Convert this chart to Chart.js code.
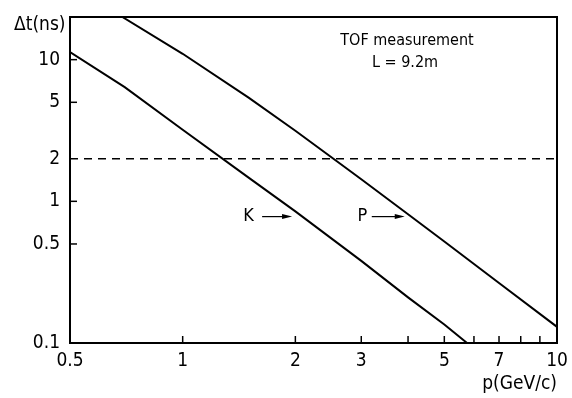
<!DOCTYPE html>
<html>
<head>
<meta charset="utf-8">
<script src="https://cdn.jsdelivr.net/npm/chart.js@4.4.1/dist/chart.umd.min.js"></script>
<style>
  html, body { margin: 0; padding: 0; background: #fff; }
  #wrap { width: 572px; height: 398px; }
</style>
</head>
<body>
<div id="wrap"><canvas id="chart" width="572" height="398"></canvas></div>
<script>
// time-of-flight difference vs momentum, flight path 9.2 m
const kaonP   = [0.5, 0.7, 1.0, 1.5, 2.0, 3.0, 4.0, 5.0, 5.75];
const kaonDt  = [11.3, 6.4, 3.2, 1.47, 0.85, 0.38, 0.21, 0.135, 0.1];
const protonP  = [0.69, 1.0, 1.5, 2.0, 2.56, 3.0, 4.0, 5.0, 7.0, 10.0];
const protonDt = [20, 11.0, 5.4, 3.15, 1.95, 1.43, 0.81, 0.52, 0.265, 0.13];
const cutP  = [0.5, 10];
const cutDt = [2, 2];

const xTicks = [0.5, 1, 2, 3, 5, 7, 10];
const xMinor = [4, 6, 8, 9];
const yTicks = [0.1, 0.5, 1, 2, 5, 10];
const yTickMarks = [0.5, 1, 5, 10];

// curve labels: text, label p, arrow start p, arrow end p, level
const markNames = ["K", "P"];
const markTextP = [1.5, 3.02];
const markFromP = [1.63, 3.2];
const markToP   = [1.96, 3.92];
const markDt    = [0.78, 0.78];

const FONT = '"DejaVu Sans Condensed", "Liberation Sans Narrow", sans-serif';

function pts(xs, ys) {
    return xs.map((x, i) => ({ x: x, y: ys[i] }));
}

const decorations = {
    id: "decorations",
    afterDraw(chart) {
        const ctx = chart.ctx;
        const xs = chart.scales.x, ys = chart.scales.y;
        const a = chart.chartArea;
        ctx.save();
        ctx.strokeStyle = "#000";
        ctx.fillStyle = "#000";

        // frame
        ctx.lineWidth = 2;
        ctx.strokeRect(a.left, a.top, a.right - a.left, a.bottom - a.top);

        // inward ticks
        ctx.lineWidth = 1.5;
        xTicks.concat(xMinor).forEach(v => {
            const px = xs.getPixelForValue(v);
            ctx.beginPath();
            ctx.moveTo(px, a.bottom);
            ctx.lineTo(px, a.bottom - 7);
            ctx.stroke();
        });
        yTickMarks.forEach(v => {
            const py = ys.getPixelForValue(v);
            ctx.beginPath();
            ctx.moveTo(a.left, py);
            ctx.lineTo(a.left + 7, py);
            ctx.stroke();
        });

        // arrows pointing to the curves
        ctx.font = "18px " + FONT;
        ctx.textBaseline = "middle";
        ctx.textAlign = "center";
        markNames.forEach((name, i) => {
            const py = ys.getPixelForValue(markDt[i]);
            const x0 = xs.getPixelForValue(markFromP[i]);
            const x1 = xs.getPixelForValue(markToP[i]);
            ctx.fillText(name, xs.getPixelForValue(markTextP[i]), py);
            ctx.lineWidth = 1.2;
            ctx.beginPath();
            ctx.moveTo(x0, py);
            ctx.lineTo(x1 - 6, py);
            ctx.stroke();
            ctx.beginPath();
            ctx.moveTo(x1, py);
            ctx.lineTo(x1 - 10, py - 2.5);
            ctx.lineTo(x1 - 10, py + 2.5);
            ctx.closePath();
            ctx.fill();
        });

        // titles
        ctx.font = "16px " + FONT;
        ctx.textAlign = "center";
        ctx.fillText("TOF measurement", 407, 41);
        ctx.fillText("L = 9.2m", 405, 63);

        ctx.font = "19px " + FONT;
        ctx.textAlign = "left";
        ctx.fillText("\u0394t(ns)", 14, 25);
        ctx.textAlign = "right";
        ctx.fillText("p(GeV/c)", 557, 384);
        ctx.restore();
    }
};

new Chart(document.getElementById("chart"), {
    type: "line",
    data: {
        datasets: [
            {
                label: "K",
                data: pts(kaonP, kaonDt),
                borderColor: "#000",
                borderWidth: 2,
                pointRadius: 0,
                tension: 0
            },
            {
                label: "P",
                data: pts(protonP, protonDt),
                borderColor: "#000",
                borderWidth: 2,
                pointRadius: 0,
                tension: 0
            },
            {
                label: "2 ns",
                data: pts(cutP, cutDt),
                borderColor: "#000",
                borderWidth: 1.5,
                borderDash: [8, 6],
                pointRadius: 0
            }
        ]
    },
    options: {
        responsive: false,
        animation: false,
        layout: { padding: { top: 17, right: 15, left: 0, bottom: 0 } },
        plugins: { legend: { display: false }, tooltip: { enabled: false } },
        scales: {
            x: {
                type: "logarithmic",
                min: 0.5,
                max: 10,
                afterBuildTicks: s => { s.ticks = xTicks.map(v => ({ value: v })); },
                afterFit: s => { s.height = 55; s.paddingLeft = 0; s.paddingRight = 0; },
                grid: { display: false, drawTicks: false },
                border: { display: false },
                ticks: {
                    color: "#000",
                    padding: 7,
                    maxRotation: 0,
                    autoSkip: false,
                    font: { family: FONT, size: 19 },
                    callback: v => String(v)
                }
            },
            y: {
                type: "logarithmic",
                min: 0.1,
                max: 20,
                afterBuildTicks: s => { s.ticks = yTicks.map(v => ({ value: v })); },
                afterFit: s => { s.width = 70; s.paddingTop = 0; s.paddingBottom = 0; },
                grid: { display: false, drawTicks: false },
                border: { display: false },
                ticks: {
                    color: "#000",
                    padding: 10,
                    autoSkip: false,
                    font: { family: FONT, size: 19 },
                    callback: v => String(v)
                }
            }
        }
    },
    plugins: [decorations]
});
</script>
</body>
</html>
